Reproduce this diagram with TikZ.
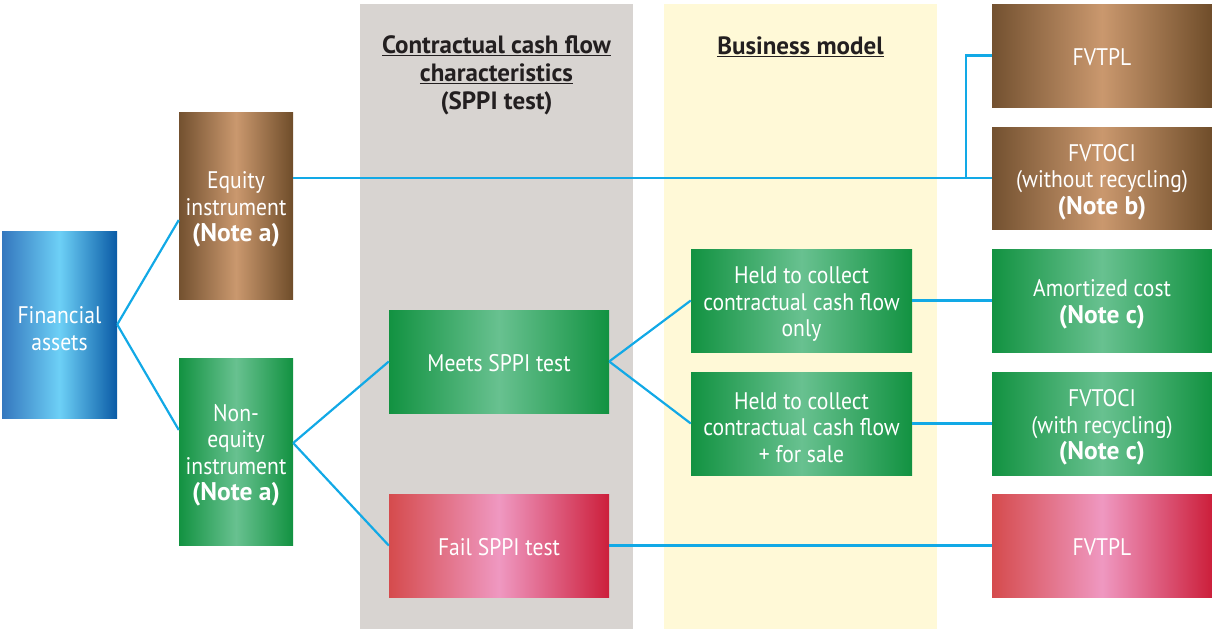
\documentclass[tikz,border=0pt]{standalone}
\usepackage{fontspec}
\setmainfont{PT Sans}[FakeStretch=0.9]
\newfontfamily\widesans{PT Sans}
\newcommand{\notetext}[1]{{\widesans\bfseries\fontsize{25.5}{26.5}\selectfont #1}}
\definecolor{link}{HTML}{12A9E6}
\definecolor{greyband}{HTML}{D8D4D1}
\definecolor{yellowband}{HTML}{FFF9D7}
\definecolor{heading}{HTML}{231F20}
\definecolor{blueA}{HTML}{3477BE}
\definecolor{blueB}{HTML}{6DD0F6}
\definecolor{blueC}{HTML}{0A5BA6}
\definecolor{brownA}{HTML}{735130}
\definecolor{brownB}{HTML}{CA986E}
\definecolor{brownC}{HTML}{6F4D2A}
\definecolor{greenA}{HTML}{129241}
\definecolor{greenB}{HTML}{68C190}
\definecolor{greenC}{HTML}{129241}
\definecolor{redA}{HTML}{D54B4D}
\definecolor{redB}{HTML}{EF98C1}
\definecolor{redC}{HTML}{CC1F3B}
\tikzset{
  box/.style={rectangle, inner sep=0pt},
  boxtext/.style={text=white, align=center, inner sep=0pt, yshift=-4pt,
    font=\fontsize{24}{26.5}\selectfont},
  oneline/.style={yshift=2.5pt},
  tall/.style={box, minimum width=114pt, minimum height=187pt},
  wide/.style={box, minimum width=220pt, minimum height=103pt},
  bluefill/.style={left color=blueA, right color=blueC, middle color=blueB},
  brownfill/.style={left color=brownA, right color=brownC, middle color=brownB},
  greenfill/.style={left color=greenA, right color=greenC, middle color=greenB},
  redfill/.style={left color=redA, right color=redC, middle color=redB},
  link/.style={draw=link, line width=2.2pt},
  title/.style={text=heading, align=center, font=\widesans\bfseries\fontsize{25}{28}\selectfont}
}
\begin{document}
\begin{tikzpicture}[x=1pt,y=-1pt]
\useasboundingbox (0,0) rectangle (1212,629);
% column backgrounds
\fill[greyband] (360,4) rectangle (633,629);
\fill[yellowband] (664,4) rectangle (937,629);
% column headings
\node[title] (hsppi) at (496.5,75) {\underline{Contractual cash flow}\\\underline{characteristics}\\(SPPI test)};
\node[title] (hbm) at (800.5,47) {\underline{Business model}};
% classification boxes
\node[tall, bluefill, minimum width=115pt, label={[boxtext]center:{Financial\\assets}}] (fa) at (59.5,324.5) {};
\node[tall, brownfill, label={[boxtext]center:{Equity\\instrument\\\notetext{(Note a)}}}] (eq) at (236,205.5) {};
\node[tall, greenfill, label={[boxtext]center:{Non-\\equity\\instrument\\\notetext{(Note a)}}}] (neq) at (236,451.5) {};
\node[wide, greenfill, label={[boxtext, oneline]center:{Meets SPPI test}}] (meets) at (499,361.5) {};
\node[wide, redfill, label={[boxtext, oneline]center:{Fail SPPI test}}] (fail) at (499,545.5) {};
\node[wide, greenfill, minimum width=221pt, label={[boxtext]center:{Held to collect\\contractual cash flow\\only}}] (hold) at (801.5,300.5) {};
\node[wide, greenfill, minimum width=221pt, label={[boxtext]center:{Held to collect\\contractual cash flow\\+ for sale}}] (holds) at (801.5,423.5) {};
\node[wide, brownfill, label={[boxtext, oneline]center:{FVTPL}}] (fvtpl) at (1102,55.5) {};
\node[wide, brownfill, minimum height=102pt, label={[boxtext]center:{FVTOCI\\(without recycling)\\\notetext{(Note b)}}}] (ocinr) at (1102,178) {};
\node[wide, greenfill, label={[boxtext]center:{Amortized cost\\\notetext{(Note c)}}}] (amort) at (1102,300.5) {};
\node[wide, greenfill, label={[boxtext]center:{FVTOCI\\(with recycling)\\\notetext{(Note c)}}}] (ocir) at (1102,423.5) {};
\node[wide, redfill, label={[boxtext, oneline]center:{FVTPL}}] (fvtplr) at (1102,545.5) {};
% connectors
\draw[link] (fa.east) -- ([yshift=-14.5pt]eq.west);
\draw[link] (fa.east) -- ([yshift=21.5pt]neq.west);
\draw[link] ([yshift=8.5pt]neq.east) -- (meets.west);
\draw[link] ([yshift=8.5pt]neq.east) -- (fail.west);
\draw[link] (meets.east) -- (hold.west);
\draw[link] (meets.east) -- (holds.west);
\draw[link] (hold.east) -- (amort.west);
\draw[link] (holds.east) -- (ocir.west);
\draw[link] (fail.east) -- (fvtplr.west);
\draw[link] (eq.east |- ocinr.west) -- (ocinr.west);
\coordinate (split) at ([xshift=-26pt]ocinr.west);
\draw[link] (split) |- (fvtpl.west);
\end{tikzpicture}
\end{document}
